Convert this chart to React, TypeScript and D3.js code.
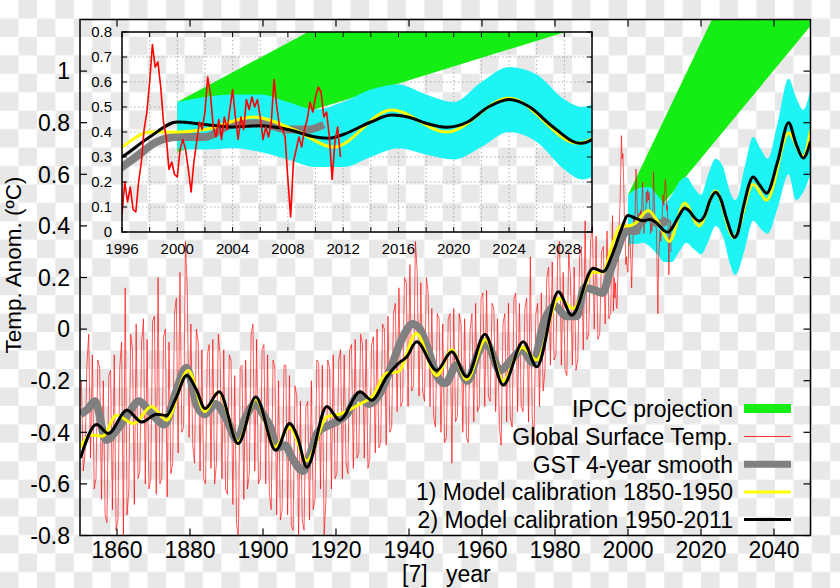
import React from 'react';
import * as d3 from 'd3';

const W = 840;
const H = 588;

// ---------- axes / ticks ----------
const mainXTicks = [1860, 1880, 1900, 1920, 1940, 1960, 1980, 2000, 2020, 2040];
const mainYTicks = [-0.8, -0.6, -0.4, -0.2, 0, 0.2, 0.4, 0.6, 0.8, 1];
const insetXLabels = [1996, 2000, 2004, 2008, 2012, 2016, 2020, 2024, 2028];
const insetXMinor = [1996, 1998, 2000, 2002, 2004, 2006, 2008, 2010, 2012, 2014, 2016, 2018, 2020, 2022, 2024, 2026, 2028, 2030];
const insetYTicks = [0, 0.1, 0.2, 0.3, 0.4, 0.5, 0.6, 0.7, 0.8];

// ---------- Global Surface Temp. (yearly high / low excursions 1850-1995) ----------
const gstStartYear = 1850;
const gstHi = [
  -0.20, -0.14, -0.02, -0.10, -0.12, -0.15, -0.20, -0.18, -0.16, -0.10,
  -0.15, -0.05, 0.16, -0.02, -0.08, 0.02, -0.05, 0.04, -0.04, 0.03,
  0.05, 0.20, -0.03, 0.00, -0.05, 0.06, 0.12, 0.22, 0.34, 0.15,
  0.02, 0.00, -0.05, -0.08, -0.10, -0.06, -0.04, -0.02, -0.10, -0.08,
  -0.10, -0.12, -0.18, -0.15, -0.14, -0.12, -0.02, 0.02, -0.04, -0.08,
  -0.06, -0.10, -0.12, -0.15, -0.20, -0.14, -0.14, -0.18, -0.22, -0.26,
  -0.28, -0.30, -0.28, -0.20, -0.12, -0.13, -0.14, -0.12, -0.15, -0.10,
  -0.12, -0.08, -0.10, -0.08, -0.06, -0.04, -0.02, -0.06, -0.04, -0.06,
  -0.03, 0.00, 0.02, 0.00, 0.05, 0.06, 0.10, 0.16, 0.20, 0.18,
  0.25, 0.34, 0.22, 0.18, 0.20, 0.14, 0.08, 0.06, 0.04, 0.02,
  0.04, 0.06, 0.08, 0.06, 0.02, 0.04, 0.00, 0.06, 0.10, 0.12,
  0.14, 0.15, 0.10, 0.08, 0.04, 0.02, 0.06, 0.10, 0.12, 0.14,
  0.10, 0.08, 0.12, 0.28, 0.06, 0.10, 0.14, 0.20, 0.24, 0.26,
  0.28, 0.34, 0.22, 0.30, 0.20, 0.24, 0.28, 0.32, 0.42, 0.34,
  0.40, 0.36, 0.30, 0.32, 0.38, 0.44,
];
const gstLo = [
  -0.55, -0.48, -0.50, -0.62, -0.58, -0.66, -0.72, -0.75, -0.70, -0.78,
  -0.74, -0.80, -0.72, -0.62, -0.68, -0.58, -0.55, -0.60, -0.62, -0.58,
  -0.64, -0.60, -0.58, -0.65, -0.56, -0.52, -0.48, -0.40, -0.38, -0.42,
  -0.45, -0.52, -0.55, -0.58, -0.60, -0.54, -0.60, -0.52, -0.58, -0.62,
  -0.64, -0.68, -0.75, -0.82, -0.66, -0.62, -0.56, -0.55, -0.60, -0.58,
  -0.60, -0.64, -0.70, -0.72, -0.74, -0.70, -0.72, -0.76, -0.78, -0.80,
  -0.74, -0.78, -0.74, -0.70, -0.66, -0.62, -0.80, -0.66, -0.62, -0.58,
  -0.56, -0.58, -0.52, -0.56, -0.54, -0.50, -0.48, -0.50, -0.54, -0.50,
  -0.48, -0.46, -0.44, -0.45, -0.40, -0.38, -0.32, -0.30, -0.28, -0.30,
  -0.24, -0.22, -0.26, -0.24, -0.28, -0.30, -0.34, -0.38, -0.40, -0.44,
  -0.42, -0.52, -0.36, -0.34, -0.40, -0.42, -0.44, -0.36, -0.32, -0.30,
  -0.30, -0.26, -0.28, -0.32, -0.38, -0.45, -0.36, -0.34, -0.38, -0.32,
  -0.30, -0.32, -0.36, -0.34, -0.44, -0.30, -0.24, -0.16, -0.14, -0.12,
  -0.10, -0.14, -0.16, -0.18, -0.14, -0.16, -0.12, -0.08, -0.04, -0.02,
  0.00, -0.04, -0.02, 0.02, 0.04, 0.06,
];
// monthly-ish record 1996.0 - 2011.8, step 0.2 yr
const gstRecentStart = 1996;
const gstRecentStep = 0.2;
const gstRecent = [
  0.07, 0.20, 0.12, 0.18, 0.09,
  0.08, 0.20, 0.28, 0.41, 0.48,
  0.60, 0.75, 0.66, 0.68, 0.58,
  0.44, 0.38, 0.25, 0.28, 0.23,
  0.22, 0.33, 0.37, 0.33, 0.25,
  0.16, 0.28, 0.36, 0.44, 0.41,
  0.48, 0.62, 0.55, 0.42, 0.38,
  0.45, 0.37, 0.46, 0.41, 0.49,
  0.57, 0.46, 0.37, 0.46, 0.41,
  0.53, 0.49, 0.54, 0.50, 0.53,
  0.46, 0.37, 0.42, 0.38, 0.44,
  0.61, 0.50, 0.42, 0.41, 0.38,
  0.21, 0.06, 0.28, 0.33, 0.38,
  0.34, 0.41, 0.45, 0.52, 0.48,
  0.54, 0.58, 0.56, 0.46, 0.48,
  0.38, 0.21, 0.36, 0.42, 0.30,
];

// ---------- GST 4-year smooth ----------
const smoothYears = [1850, 1852, 1854, 1857, 1860, 1863, 1866, 1869, 1873, 1876, 1879, 1882, 1884, 1887, 1890, 1893, 1895, 1898, 1900, 1902, 1904, 1906, 1908, 1911, 1913, 1915, 1917, 1920, 1923, 1926, 1929, 1932, 1935, 1938, 1941, 1943, 1945, 1948, 1950, 1953, 1956, 1959, 1961, 1962, 1965, 1968, 1971, 1974, 1977, 1980, 1983, 1986, 1988, 1991, 1993, 1995, 1997, 1998.5, 2000, 2002, 2004, 2006, 2008, 2009.5, 2010.6];
const smoothVals = [-0.33, -0.31, -0.28, -0.43, -0.39, -0.33, -0.28, -0.32, -0.37, -0.25, -0.15, -0.30, -0.33, -0.29, -0.35, -0.43, -0.35, -0.29, -0.33, -0.38, -0.46, -0.45, -0.50, -0.55, -0.48, -0.40, -0.38, -0.36, -0.33, -0.26, -0.29, -0.25, -0.15, -0.04, 0.02, 0.0, -0.07, -0.19, -0.21, -0.14, -0.20, -0.09, -0.05, -0.07, -0.16, -0.12, -0.08, -0.13, 0.03, 0.09, 0.05, 0.05, 0.16, 0.15, 0.14, 0.22, 0.30, 0.36, 0.38, 0.38, 0.43, 0.435, 0.41, 0.41, 0.43];

// ---------- Model calibration 1850-1950 (yellow) ----------
const model1Years = [1850, 1852.6, 1856, 1859.9, 1864.5, 1869.5, 1873.6, 1879.5, 1884.1, 1887.8, 1893.2, 1898, 1903.3, 1907.3, 1912, 1917.5, 1921, 1926.6, 1930, 1933.9, 1937, 1942, 1947.6, 1951.7, 1955.8, 1961, 1965.8, 1971, 1975, 1981, 1985, 1990.5, 1993, 1996, 1998, 2000, 2002, 2005.5, 2008.5, 2011.3, 2015.5, 2019.5, 2024, 2029, 2034.3, 2038, 2044, 2048, 2050];
const model1Vals = [-0.46, -0.41, -0.415, -0.334, -0.366, -0.30, -0.353, -0.16, -0.32, -0.243, -0.437, -0.27, -0.457, -0.38, -0.51, -0.34, -0.33, -0.29, -0.26, -0.17, -0.166, -0.017, -0.18, -0.08, -0.195, -0.04, -0.20, -0.07, -0.12, 0.12, 0.08, 0.22, 0.22, 0.34, 0.40, 0.40, 0.41, 0.46, 0.408, 0.34, 0.488, 0.40, 0.535, 0.355, 0.56, 0.50, 0.76, 0.67, 0.77];

// ---------- Model calibration 1950-2011 (black) ----------
const model2Years = [1850, 1854.4, 1857.6, 1862.7, 1866.8, 1870.9, 1873.6, 1875.9, 1879.1, 1881.8, 1884.1, 1888, 1893.2, 1898, 1903.5, 1907.3, 1909.5, 1912, 1917.5, 1921, 1926.6, 1929.8, 1933.9, 1937.1, 1939.4, 1942.1, 1947.6, 1951.7, 1955.8, 1960.8, 1965.8, 1971.3, 1975, 1980.9, 1984.6, 1990.5, 1993.2, 1996, 1998, 2000, 2002, 2004, 2006, 2008, 2010, 2011, 2012, 2014, 2015.5, 2017, 2018, 2019.5, 2021, 2022.5, 2024, 2025.5, 2027, 2029.2, 2030, 2031.6, 2034.3, 2036, 2038, 2041, 2044, 2046, 2048, 2050];
const model2Vals = [-0.50, -0.37, -0.405, -0.315, -0.36, -0.33, -0.335, -0.276, -0.18, -0.237, -0.308, -0.243, -0.444, -0.263, -0.47, -0.366, -0.42, -0.535, -0.30, -0.353, -0.243, -0.276, -0.185, -0.133, -0.107, -0.049, -0.16, -0.088, -0.185, -0.02, -0.217, -0.049, -0.146, 0.145, 0.054, 0.236, 0.223, 0.30, 0.38, 0.44, 0.43, 0.42, 0.425, 0.41, 0.38, 0.375, 0.39, 0.44, 0.468, 0.455, 0.435, 0.419, 0.44, 0.50, 0.53, 0.50, 0.428, 0.355, 0.37, 0.473, 0.59, 0.56, 0.527, 0.65, 0.80, 0.72, 0.663, 0.727];

// ---------- model uncertainty band (cyan) ----------
const bandYears = [2000, 2002, 2004, 2006, 2008, 2010, 2012, 2014, 2016, 2018, 2020, 2022, 2024, 2026, 2028, 2029.3, 2030, 2032, 2034.3, 2036.3, 2038.3, 2041, 2044, 2046, 2048, 2050];
const bandHi = [0.52, 0.54, 0.55, 0.55, 0.52, 0.49, 0.52, 0.57, 0.59, 0.55, 0.52, 0.60, 0.66, 0.63, 0.53, 0.50, 0.51, 0.63, 0.745, 0.70, 0.66, 0.80, 0.97, 0.90, 0.85, 0.93];
const bandLo = [0.33, 0.33, 0.335, 0.32, 0.29, 0.26, 0.26, 0.30, 0.335, 0.31, 0.29, 0.34, 0.40, 0.36, 0.25, 0.21, 0.22, 0.31, 0.42, 0.39, 0.37, 0.47, 0.60, 0.50, 0.53, 0.60];

// ---------- IPCC projection (green) ----------
const ipccYears = [2000, 2050];
const ipccLo = [0.32, 1.175];
const ipccHi = [0.52, 2.0];

// ---------- legend ----------
const legendLabels = ['IPCC projection', 'Global Surface Temp.', 'GST 4-year smooth', '1) Model calibration 1850-1950', '2) Model calibration 1950-2011'];

type P = [number, number];
const zip = (xs: number[], ys: number[]): P[] => xs.map((v, i) => [v, ys[i]]);

const FONT = '"Liberation Sans", Arial, Helvetica, sans-serif';
const CB = 18.45;

export default function App() {
  // main scales
  const x = d3.scaleLinear().domain([1850, 2050]).range([80.5, 810.5]);
  const y = d3.scaleLinear().domain([-0.8, 1.2]).range([535.5, 19.5]);
  // inset scales
  const xi = d3.scaleLinear().domain([1996, 2030]).range([122, 592]);
  const yi = d3.scaleLinear().domain([0, 0.8]).range([232, 32]);

  const recentPts: P[] = gstRecent.map((v, i) => [gstRecentStart + i * gstRecentStep, v]);
  const earlyPts: P[] = [];
  gstHi.forEach((h, i) => {
    const yr = gstStartYear + i;
    const lo = gstLo[i];
    if (i % 3 === 1) {
      earlyPts.push([yr + 0.25, lo]);
      earlyPts.push([yr + 0.75, h]);
    } else {
      earlyPts.push([yr + 0.25, h]);
      earlyPts.push([yr + 0.75, lo]);
    }
  });
  const redAll = earlyPts.concat(recentPts);

  const smooth = zip(smoothYears, smoothVals);
  const m1 = zip(model1Years, model1Vals);
  const m2 = zip(model2Years, model2Vals);
  const band = bandYears.map((yr, i) => ({ yr, lo: bandLo[i], hi: bandHi[i] }));
  const ipcc = ipccYears.map((yr, i) => ({ yr, lo: ipccLo[i], hi: ipccHi[i] }));

  const mk = (sx: any, sy: any) => {
    const smoothLine = d3.line<P>().x(d => sx(d[0])).y(d => sy(d[1])).curve(d3.curveMonotoneX);
    const rawLine = d3.line<P>().x(d => sx(d[0])).y(d => sy(d[1]));
    const bandArea = d3.area<{ yr: number; lo: number; hi: number }>()
      .x(d => sx(d.yr)).y0(d => sy(d.lo)).y1(d => sy(d.hi)).curve(d3.curveMonotoneX);
    const ipccArea = d3.area<{ yr: number; lo: number; hi: number }>()
      .x(d => sx(d.yr)).y0(d => sy(d.lo)).y1(d => sy(d.hi));
    return { smoothLine, rawLine, bandArea, ipccArea };
  };
  const gm = mk(x, y);
  const gi = mk(xi, yi);

  const green = '#14ee14';
  const cyan = '#1ef4f4';
  const yellow = '#ffff00';
  const gray = '#808080';

  const legY = [408.5, 436.5, 464.3, 492, 519.5];
  const FS = 23;

  return (
    <svg width={W} height={H} style={{ position: 'absolute', left: 0, top: 0 }} fontFamily={FONT}>
      <defs>
        <pattern id="cb" width={CB * 2} height={CB * 2} patternUnits="userSpaceOnUse">
          <rect width={CB * 2} height={CB * 2} fill="#ffffff" />
          <rect x={CB} y={0} width={CB} height={CB} fill="#e8e8e8" />
          <rect x={0} y={CB} width={CB} height={CB} fill="#e8e8e8" />
        </pattern>
        <clipPath id="mainClip">
          <rect x={80} y={19.5} width={730.5} height={516} />
        </clipPath>
        <clipPath id="insetClip">
          <rect x={122} y={32} width={470} height={200} />
        </clipPath>
      </defs>
      <rect width={W} height={H} fill="url(#cb)" />

      {/* ---------- main plot data ---------- */}
      <g clipPath="url(#mainClip)">
        <path d={gm.ipccArea(ipcc) || ''} fill={green} />
        <path d={gm.bandArea(band) || ''} fill={cyan} />
        <path d={gm.rawLine(redAll) || ''} fill="none" stroke="#ff0000" strokeWidth={0.8} strokeOpacity={0.8} />
        <path d={gm.smoothLine(smooth) || ''} fill="none" stroke={gray} strokeWidth={8} strokeLinejoin="round" />
        <path d={gm.smoothLine(m1) || ''} fill="none" stroke={yellow} strokeWidth={3} />
        <path d={gm.smoothLine(m2) || ''} fill="none" stroke="#000" strokeWidth={3} />
      </g>

      {/* main frame and ticks */}
      <rect x={80} y={19.5} width={730.5} height={516} fill="none" stroke="#000" strokeWidth={1.5} />
      {mainXTicks.map(t => (
        <g key={'mx' + t}>
          <line x1={x(t)} x2={x(t)} y1={535.5} y2={528.5} stroke="#000" strokeWidth={1.2} />
          <line x1={x(t)} x2={x(t)} y1={19.5} y2={26.5} stroke="#000" strokeWidth={1.2} />
          <text x={x(t)} y={558} fontSize={FS} textAnchor="middle" fill="#000">{t}</text>
        </g>
      ))}
      {mainYTicks.map(t => (
        <g key={'my' + t}>
          <line x1={80} x2={87} y1={y(t)} y2={y(t)} stroke="#000" strokeWidth={1.2} />
          <line x1={810.5} x2={803.5} y1={y(t)} y2={y(t)} stroke="#000" strokeWidth={1.2} />
          <text x={70} y={y(t)} dy="0.36em" fontSize={FS} textAnchor="end" fill="#000">{+t.toFixed(1)}</text>
        </g>
      ))}
      <text transform="translate(21,265) rotate(-90)" fontSize={22.5} textAnchor="middle" fill="#000">Temp. Anom. (ºC)</text>
      <text x={402} y={582} fontSize={FS} fill="#000">[7]</text>
      <text x={446} y={582} fontSize={FS} fill="#000">year</text>

      {/* legend */}
      {legendLabels.map((lab, i) => (
        <text key={lab} x={733} y={legY[i]} dy="0.36em" fontSize={FS} textAnchor="end" fill="#000">{lab}</text>
      ))}
      <line x1={744} x2={791} y1={legY[0]} y2={legY[0]} stroke={green} strokeWidth={9} />
      <line x1={744} x2={791} y1={legY[1]} y2={legY[1]} stroke="#ff0000" strokeWidth={1} strokeOpacity={0.8} />
      <line x1={744} x2={791} y1={legY[2]} y2={legY[2]} stroke={gray} strokeWidth={7} />
      <line x1={744} x2={791} y1={legY[3]} y2={legY[3]} stroke={yellow} strokeWidth={3} />
      <line x1={744} x2={791} y1={legY[4]} y2={legY[4]} stroke="#000" strokeWidth={3} />

      {/* ---------- inset ---------- */}
      <g>
        {insetXMinor.map(t => (
          <line key={'gx' + t} x1={xi(t)} x2={xi(t)} y1={32} y2={232} stroke="#999" strokeWidth={0.8} strokeDasharray="1.5,2.5" />
        ))}
        {insetYTicks.map(t => (
          <line key={'gy' + t} x1={122} x2={592} y1={yi(t)} y2={yi(t)} stroke="#999" strokeWidth={0.8} strokeDasharray="1.5,2.5" />
        ))}
        <g clipPath="url(#insetClip)">
          <path d={gi.ipccArea(ipcc) || ''} fill={green} />
          <path d={gi.bandArea(band) || ''} fill={cyan} />
          <path d={gi.smoothLine(smooth) || ''} fill="none" stroke={gray} strokeWidth={8} strokeLinejoin="round" />
          <path d={gi.smoothLine(m1) || ''} fill="none" stroke={yellow} strokeWidth={3} />
          <path d={gi.smoothLine(m2) || ''} fill="none" stroke="#000" strokeWidth={3} />
          <path d={gi.rawLine(recentPts) || ''} fill="none" stroke="#ff0000" strokeWidth={1.6} strokeLinejoin="round" />
        </g>
        <rect x={122} y={32} width={470} height={200} fill="none" stroke="#000" strokeWidth={1.5} />
        {insetXMinor.map(t => (
          <g key={'ix' + t}>
            <line x1={xi(t)} x2={xi(t)} y1={232} y2={227} stroke="#000" strokeWidth={1} />
            <line x1={xi(t)} x2={xi(t)} y1={32} y2={37} stroke="#000" strokeWidth={1} />
          </g>
        ))}
        {insetXLabels.map(t => (
          <text key={'ixl' + t} x={xi(t)} y={254} fontSize={15} textAnchor="middle" fill="#000">{t}</text>
        ))}
        {insetYTicks.map(t => (
          <g key={'iy' + t}>
            <line x1={122} x2={127} y1={yi(t)} y2={yi(t)} stroke="#000" strokeWidth={1} />
            <line x1={592} x2={587} y1={yi(t)} y2={yi(t)} stroke="#000" strokeWidth={1} />
            <text x={112} y={yi(t)} dy="0.36em" fontSize={15} textAnchor="end" fill="#000">{+t.toFixed(1)}</text>
          </g>
        ))}
      </g>
    </svg>
  );
}
